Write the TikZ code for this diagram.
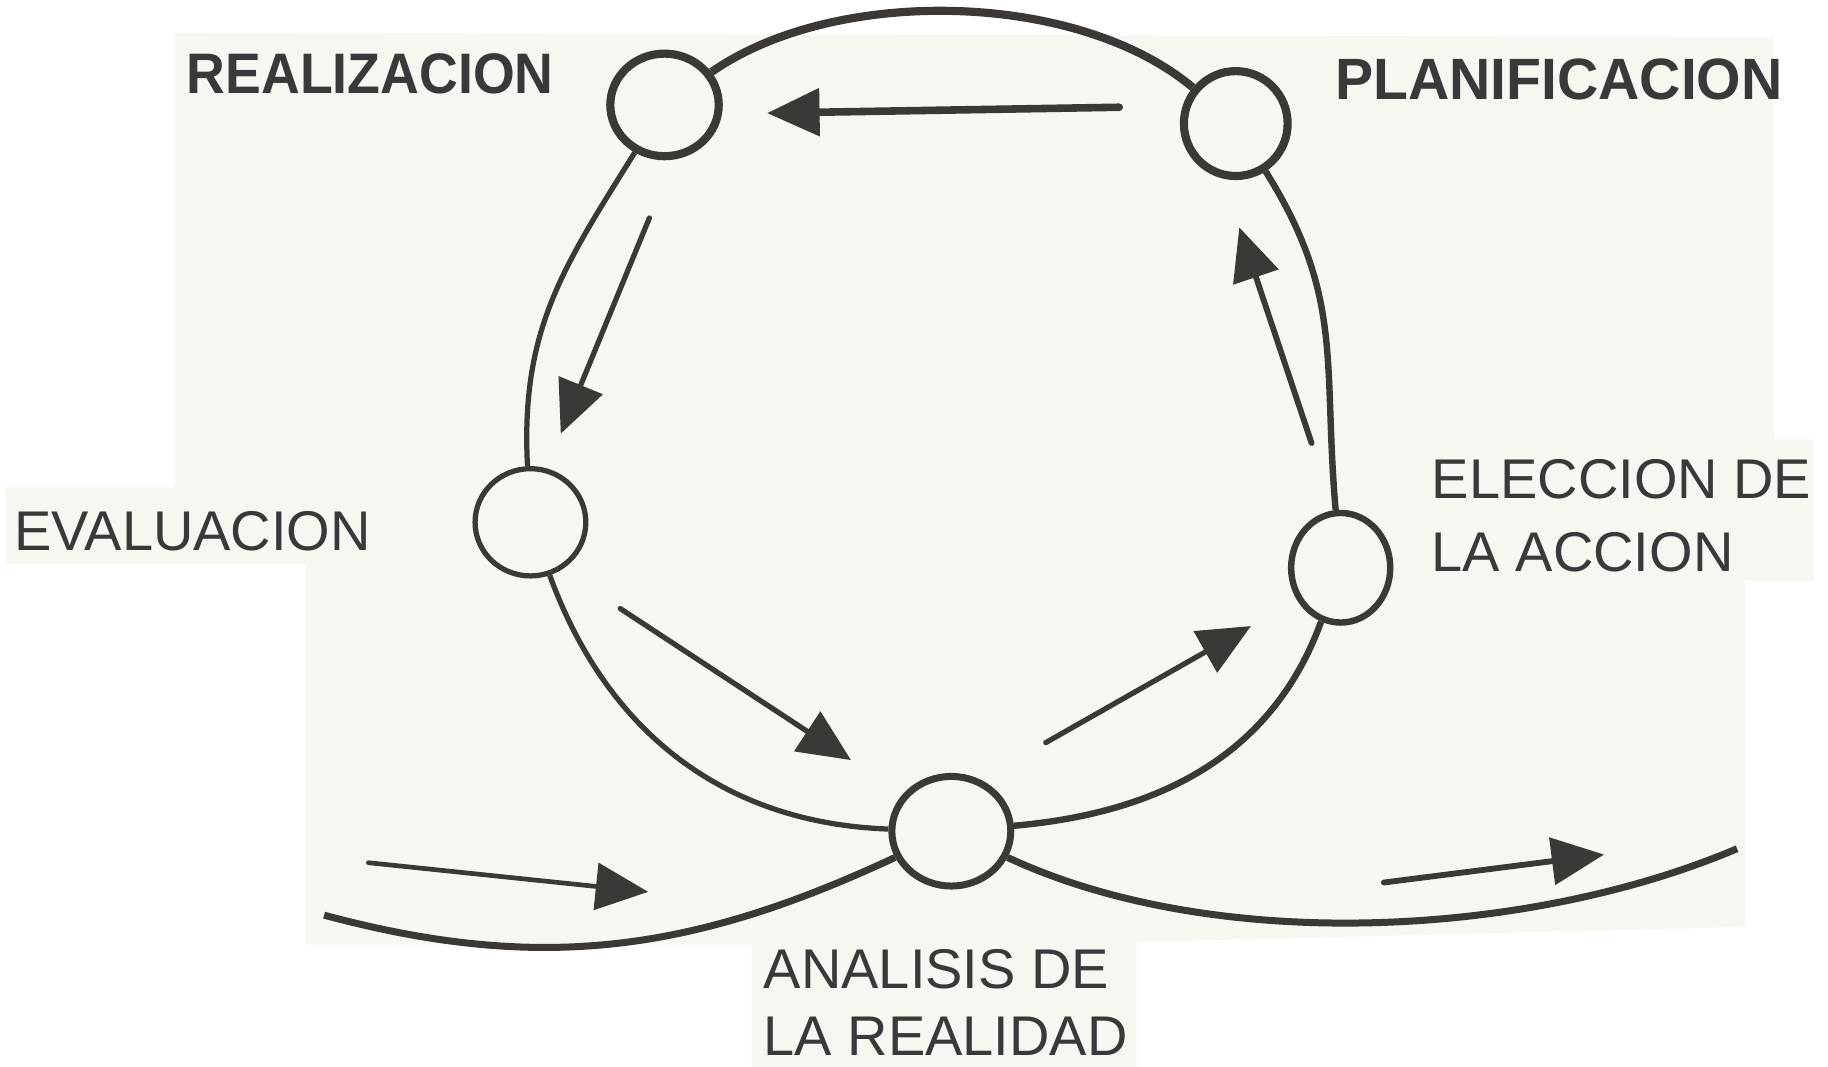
\documentclass[tikz,border=0pt]{standalone}
\usepackage{fontspec}
\setmainfont{Liberation Sans}
\newfontfamily\condbold[FakeStretch=0.94]{Liberation Sans}
\newfontfamily\condboldb[FakeStretch=0.98]{Liberation Sans}
\usetikzlibrary{arrows.meta,shapes.geometric}
\definecolor{ink}{HTML}{3B3836}
\definecolor{paper}{HTML}{F7F6F1}
\definecolor{txt}{HTML}{3A3838}
\begin{document}
\begin{tikzpicture}[x=1pt,y=1pt,
  stage/.style={ellipse, draw=ink, fill=paper, inner sep=0pt},
  loopline/.style={draw=ink, line cap=butt},
  flow/.style={draw=ink, line cap=round, -{Triangle[length=45pt,width=40pt]}},
  lbl/.style={text=txt, inner sep=0pt, anchor=base west, align=left, font=\fontsize{48}{62}\selectfont},
  boldlbl/.style={lbl, font=\condbold\bfseries\fontsize{49}{60}\selectfont}
]
\useasboundingbox (0,0) rectangle (1568,-915);
\fill[white] (0,0) rectangle (1568,-915);
\fill[paper] (150,-28) -- (1522,-32) -- (1522,-377) -- (1556,-377) -- (1556,-498)
  -- (1497,-498) -- (1497,-795) -- (975,-808) -- (975,-915) -- (645,-915)
  -- (645,-810) -- (262,-810) -- (262,-484) -- (5,-484) -- (5,-418) -- (150,-418) -- cycle;

% stages
\node[stage, line width=7pt, minimum width=93pt, minimum height=88pt] (R) at (570,-90) {};
\node[stage, line width=7pt, minimum width=89pt, minimum height=90pt] (P) at (1060,-106) {};
\node[stage, line width=4.5pt, minimum width=95pt, minimum height=92pt] (E) at (455,-448) {};
\node[stage, line width=5.5pt, minimum width=85pt, minimum height=94pt] (C) at (1150,-487) {};
\node[stage, line width=6pt, minimum width=102pt, minimum height=94pt] (A) at (816,-713) {};

% the loop
\draw[loopline, line width=7pt] (R) to[out=35, in=140, looseness=0.8] (P);
\draw[loopline, line width=5.5pt] (P) to[out=-58, in=95, looseness=1.1] (C);
\draw[loopline, line width=5.5pt] (C) to[out=250, in=5] (A);
\draw[loopline, line width=4.5pt] (A) to[out=178, in=290] (E);
\draw[loopline, line width=4.5pt] (E) to[out=93, in=238, looseness=1.05] (R);

% the way in and out
\coordinate (in0) at (278,-785);
\coordinate (out0) at (1490,-728);
\draw[loopline, line width=6pt] (in0) to[out=-15, in=205] (A);
\draw[loopline, line width=6pt] (A) to[out=-25, in=203, looseness=0.8] (out0);

% flow arrows
\coordinate (a1s) at (960,-92);   \coordinate (a1e) at (658,-97);
\coordinate (a2s) at (557,-187);  \coordinate (a2e) at (481,-372);
\coordinate (a3s) at (532,-522);  \coordinate (a3e) at (730,-652);
\coordinate (a4s) at (897,-637);  \coordinate (a4e) at (1073,-537);
\coordinate (a5s) at (1125,-380); \coordinate (a5e) at (1063,-195);
\coordinate (a6s) at (316,-740);  \coordinate (a6e) at (556,-765);
\coordinate (a7s) at (1187,-757); \coordinate (a7e) at (1376,-733);
\draw[flow, line width=6.5pt] (a1s) -- (a1e);
\draw[flow, line width=4.5pt] (a2s) -- (a2e);
\draw[flow, line width=4.5pt] (a3s) -- (a3e);
\draw[flow, line width=4.5pt] (a4s) -- (a4e);
\draw[flow, line width=5pt] (a5s) -- (a5e);
\draw[flow, line width=4pt] (a6s) -- (a6e);
\draw[flow, line width=5pt] (a7s) -- (a7e);

% labels
\node[boldlbl] (tR) at (160,-80) {REALIZACION};
\node[boldlbl, font=\condboldb\bfseries\fontsize{50}{60}\selectfont] (tP) at (1145,-85) {PLANIFICACION};
\node[lbl] (tE) at (12,-472) {EVALUACION};
\node[lbl] (tC) at (1228,-490) {ELECCION DE\\LA ACCION};
\node[lbl, font=\fontsize{48}{57}\selectfont] (tA) at (655,-905) {ANALISIS DE\\LA REALIDAD};
\end{tikzpicture}
\end{document}
